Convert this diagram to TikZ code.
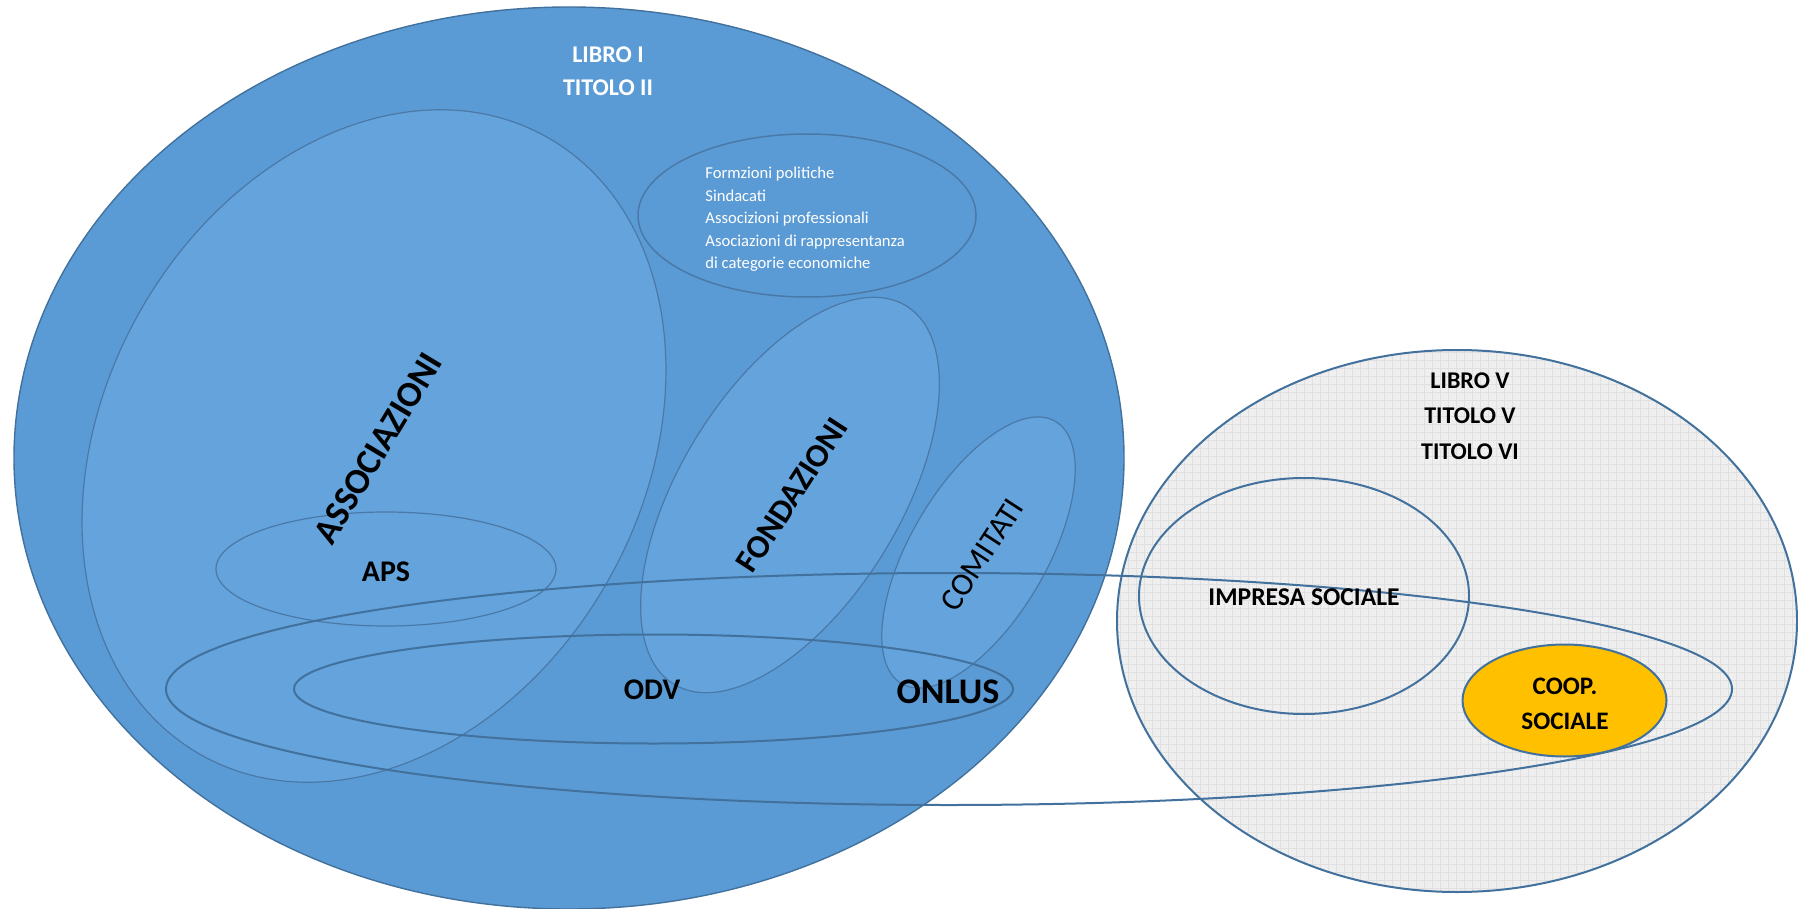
\documentclass[tikz,border=0pt]{standalone}
\usepackage{fontspec}
\setmainfont{Carlito}
\usepackage{tikz}

\definecolor{mainblue}{HTML}{5B9BD5}
\definecolor{lightblue}{HTML}{64A3DB}
\definecolor{edgeblue}{HTML}{41719C}
\definecolor{softedge}{HTML}{4A79A8}
\definecolor{greyfill}{HTML}{EFEFEF}
\definecolor{gridgrey}{HTML}{E0E0E0}
\definecolor{coopyellow}{HTML}{FFC000}

\tikzset{
    thinedge/.style={draw=softedge, line width=0.6pt},
    thickedge/.style={draw=edgeblue, line width=1pt},
    bookhead/.style={font=\bfseries\fontsize{12}{14}\selectfont, inner sep=0pt},
    setlabel/.style={font=\bfseries\fontsize{15}{18}\selectfont, inner sep=0pt},
    listtext/.style={font=\fontsize{8.3}{11.25}\selectfont, text=white, align=left, inner sep=0pt}
}

\begin{document}
\begin{tikzpicture}[x=0.5pt, y=-0.5pt]
    \useasboundingbox (0,0) rectangle (1798,909);
    \fill[white] (0,0) rectangle (1798,909);

    % libro I
    \filldraw[fill=mainblue, draw=edgeblue, line width=0.7pt] (569,458) ellipse [x radius=555, y radius=451];

    % libro V
    \fill[greyfill] (1457,621) ellipse [x radius=340, y radius=271];
    \begin{scope}
        \clip (1457,621) ellipse [x radius=340, y radius=271];
        \draw[gridgrey, line width=0.3pt, step=4pt] (1110,345) grid (1800,900);
    \end{scope}
    \draw[thickedge] (1457,621) ellipse [x radius=340, y radius=271];

    \fill[lightblue] (374,446) ellipse [x radius=354, y radius=270, rotate=61];
    \fill[lightblue] (790,495) ellipse [x radius=222, y radius=110, rotate=58.4];
    \fill[lightblue] (978.5,552.5) ellipse [x radius=152, y radius=68, rotate=59.6];

    \draw[thinedge] (374,446) ellipse [x radius=354, y radius=270, rotate=61];
    \draw[thinedge] (790,495) ellipse [x radius=222, y radius=110, rotate=58.4];
    \draw[thinedge] (978.5,552.5) ellipse [x radius=152, y radius=68, rotate=59.6];
    \draw[thinedge] (386,569) ellipse [x radius=170, y radius=57];
    \draw[softedge, line width=0.75pt] (807,215.5) ellipse [x radius=169, y radius=81.5];

    \draw[thickedge] (653.5,689) ellipse [x radius=359.5, y radius=54.5];
    \draw[thickedge] (949,689) ellipse [x radius=783, y radius=116];
    \draw[thickedge] (1304,596) ellipse [x radius=165, y radius=118];
    \filldraw[fill=coopyellow, thickedge] (1564.5,700.5) ellipse [x radius=102, y radius=56];

    \node (libro1) at (608,55) [bookhead, text=white] {LIBRO I};
    \node (titolo2) at (608,88) [bookhead, text=white] {TITOLO II};
    \node (formazioni) at (705,219.5) [listtext, anchor=west] {Formzioni politiche\\Sindacati\\Associzioni professionali\\Asociazioni di rappresentanza\\di categorie economiche};

    \node (associazioni) at (378,448) [setlabel, font=\bfseries\fontsize{18}{20}\selectfont, rotate=59] {ASSOCIAZIONI};
    \node (aps) at (386,572) [setlabel] {APS};
    \node (fondazioni) at (792,495) [setlabel, font=\bfseries\fontsize{16.5}{18}\selectfont, rotate=57] {FONDAZIONI};
    \node (comitati) at (982,555) [font=\fontsize{16}{18}\selectfont, inner sep=0pt, rotate=57] {COMITATI};
    \node (odv) at (652,690) [setlabel] {ODV};
    \node (onlus) at (948,692) [setlabel, font=\bfseries\fontsize{18}{20}\selectfont] {ONLUS};

    \node (libro5) at (1470,381) [bookhead] {LIBRO V};
    \node (titolo5) at (1470,416) [bookhead] {TITOLO V};
    \node (titolo6) at (1470,452) [bookhead] {TITOLO VI};
    \node (impresa) at (1304,597) [bookhead, font=\bfseries\fontsize{12.8}{14}\selectfont] {IMPRESA SOCIALE};
    \node (coop) at (1565,686) [bookhead, font=\bfseries\fontsize{12.6}{14}\selectfont] {COOP.};
    \node (sociale) at (1565,721) [bookhead, font=\bfseries\fontsize{12.6}{14}\selectfont] {SOCIALE};
\end{tikzpicture}
\end{document}
